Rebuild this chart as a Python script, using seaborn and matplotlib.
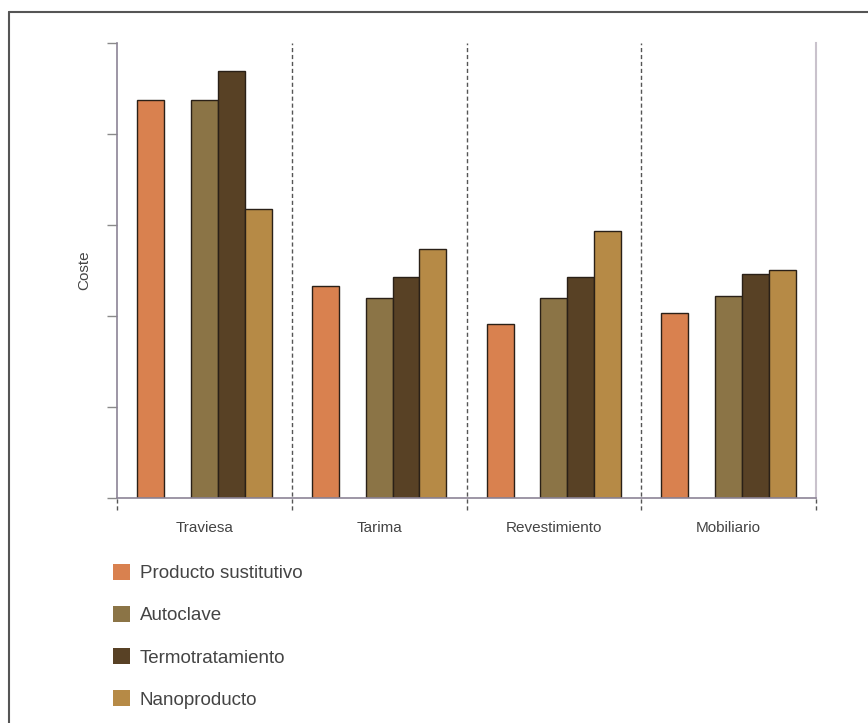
import pandas as pd
import numpy as np
from matplotlib import pyplot as plt
from matplotlib.patches import Patch
from matplotlib.lines import Line2D
import seaborn as sns

usos = ['Traviesa', 'Tarima', 'Revestimiento', 'Mobiliario']
productos = ['Producto sustitutivo', 'Autoclave', 'Termotratamiento', 'Nanoproducto']
sustitutivo = [4.37, 2.33, 1.91, 2.03]
autoclave = [4.37, 2.20, 2.20, 2.22]
termo = [4.69, 2.43, 2.43, 2.46]
nano = [3.18, 2.74, 2.93, 2.51]
colores = ['#d9814f', '#8b7446', '#584125', '#b68a46']

data = pd.DataFrame({
    'uso': usos * 4,
    'producto': np.repeat(productos, 4),
    'coste': sustitutivo + autoclave + termo + nano,
})

sns.set_style("white")
plt.rcParams['font.family'] = ['Liberation Sans', 'DejaVu Sans']

fig = plt.figure(figsize=(8.68, 7.23), dpi=100)
ax = fig.add_axes([0.1348, 0.3112, 0.8053, 0.6293])

# hueco vacio entre el producto sustitutivo y los de madera
orden = ['Producto sustitutivo', '_hueco', 'Autoclave', 'Termotratamiento', 'Nanoproducto']
paleta = dict(zip(productos, colores))
paleta['_hueco'] = '#ffffff'
sns.barplot(data=data, x='uso', y='coste', hue='producto', hue_order=orden,
            order=usos, palette=paleta, width=0.77, gap=0, legend=False,
            edgecolor='#2a2017', linewidth=1, saturation=1, ax=ax)

ax.set_xlim(-0.5, 3.5)
ax.set_ylim(0, 5)
ax.set_yticks(range(6))
ax.set_yticklabels([])
ax.tick_params(axis='y', left=True, length=7, width=1, color='#8a8a8a', direction='out')
ax.tick_params(axis='x', bottom=False, labelsize=11, labelcolor='#444444', pad=13)
ax.set_xlabel('')
ax.set_ylabel('Coste', fontsize=11, color='#444444', labelpad=8)

for s in ['left', 'bottom']:
    ax.spines[s].set_color('#8c8496')
    ax.spines[s].set_linewidth(1.2)
ax.spines['right'].set_color('#c9c2cc')
ax.spines['right'].set_linewidth(1.5)
ax.spines['top'].set_visible(False)

for x in [0.5, 1.5, 2.5]:
    ax.axvline(x, ymin=-0.026, ymax=1, color='#555555', lw=1, ls=(0, (3, 2)), clip_on=False)
for x in [-0.5, 3.5]:
    ax.axvline(x, ymin=-0.026, ymax=0, color='#555555', lw=1, ls=(0, (3, 2)), clip_on=False)

handles = [Patch(facecolor=c, edgecolor='none') for c in colores]
fig.legend(handles, productos, loc='upper left', bbox_to_anchor=(0.1194, 0.233),
           frameon=False, fontsize=13.5, handlelength=0.92, handleheight=0.92,
           handletextpad=0.5, labelspacing=1.27, labelcolor='#444444', borderpad=0)

# marco de la figura
fig.add_artist(Line2D([0.0104, 1.0], [0.9834, 0.9834], color='#555555', lw=1.5))
fig.add_artist(Line2D([0.0104, 0.0104], [0.0, 0.9834], color='#555555', lw=1.5))

plt.savefig('out.png', dpi=100)
